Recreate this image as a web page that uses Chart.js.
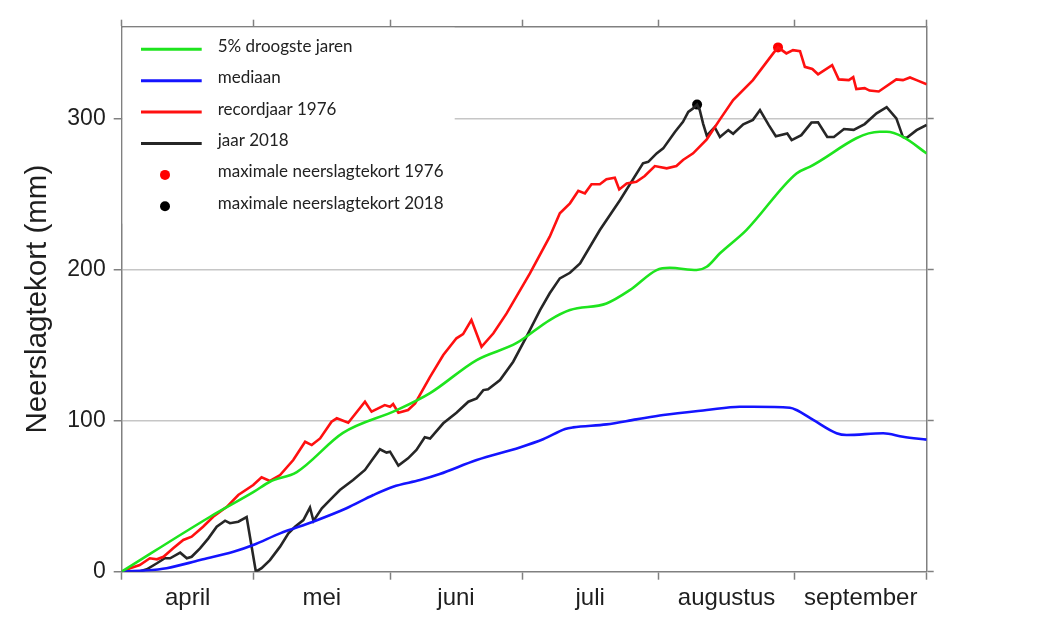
<!DOCTYPE html>
<html>
<head>
<meta charset="utf-8">
<script src="https://cdn.jsdelivr.net/npm/chart.js@4/dist/chart.umd.min.js"></script>
<style>
  html, body { margin: 0; padding: 0; background: #fff; }
  #wrap { width: 1046px; height: 629px; position: relative; }
</style>
</head>
<body>
<div id="wrap"><canvas id="chart"></canvas></div>
<script>
'use strict';

// x = days since 1 april (183 = 1 oktober), y = neerslagtekort in mm
const monthStarts = [0, 30, 61, 91, 122, 153, 183];
const monthMids = [15, 45.5, 76, 106.5, 137.5, 168];
const monthNames = ['april', 'mei', 'juni', 'juli', 'augustus', 'september'];
const yTicks = [0, 100, 200, 300];

// 5% droogste jaren
const dryDays = [0, 20.1, 30, 33.7, 39.8, 50.3, 62.5, 70.1, 80.7, 89.8, 97.3, 101.9, 110.2, 115.5, 121.6, 124.6, 130.7, 133, 136, 142, 153.4, 156.4, 172.3, 173.9, 177.6, 183];
const dryValues = [0, 36.4, 52.8, 59.6, 66, 91.9, 107, 118.3, 140.2, 151.5, 166.7, 173.3, 177.7, 186.5, 199.8, 201.3, 199.8, 202, 210.9, 226.3, 263.8, 268.2, 291.4, 291.4, 288, 277];

// mediaan
const medianDays = [0, 4.9, 10.2, 17.8, 25.4, 29.9, 36, 43.5, 51.1, 57.2, 61.7, 67.8, 72.3, 80.7, 90.5, 95.8, 100.8, 102.6, 110.2, 117, 123.1, 133, 140.5, 143.5, 151.9, 153.4, 157.2, 162.5, 164.8, 173.1, 177.6, 183];
const medianValues = [0, 0.7, 2.3, 7.7, 13.2, 17.7, 25.4, 33.1, 42, 50.8, 56.3, 60.7, 64.7, 74, 82.3, 87.7, 94.5, 95.6, 97.6, 100.9, 103.8, 107.1, 109.3, 109.3, 108.6, 107.1, 100.5, 91.7, 90.5, 91.7, 89.4, 87.5];

// recordjaar 1976
const days1976 = [0, 1.9, 4.1, 6.4, 8, 9.5, 11.7, 14, 15.9, 18.5, 20.8, 23.9, 26.5, 29.9, 31.8, 33.7, 36, 39, 41.7, 43.2, 45.1, 47.7, 48.9, 51.5, 55.3, 56.8, 59.8, 61, 61.7, 62.9, 65.1, 66.7, 70.1, 73.1, 76.1, 77.6, 79.5, 81.8, 84.5, 87.5, 92.8, 97.3, 99.6, 101.9, 103.8, 105.3, 106.8, 108.7, 110.2, 112.1, 113.1, 114.8, 117, 118.9, 121.2, 123.9, 126.1, 127.6, 129.9, 133, 136, 139, 143.5, 148.1, 149.2, 151.1, 152.6, 154.2, 155.3, 157, 158.3, 161.5, 163, 165.3, 166.3, 167, 168.9, 170, 172.1, 176.1, 177.6, 179.2, 180.7, 183];
const values1976 = [0, 2.3, 4.4, 8.9, 8.2, 9.9, 15.5, 21, 23.2, 29.8, 36.4, 43, 50.8, 57.4, 62.5, 60.1, 64, 74, 86.1, 83.9, 88.3, 99.3, 101.6, 98.7, 112.6, 106, 110.4, 109.3, 111.1, 105.3, 107.1, 111.5, 129.1, 143.5, 154.6, 157.4, 166.7, 149, 157.9, 171.1, 197.6, 221.9, 237.4, 244, 252.3, 250.6, 256.6, 256.6, 259.9, 260.9, 253.2, 257.2, 258.3, 262.1, 268.7, 267.2, 268.7, 272.7, 277.1, 286.4, 299.6, 312.4, 325.6, 343.3, 347.3, 343.3, 345.5, 344.8, 334.4, 333, 329.5, 335.6, 326.1, 325.6, 327.6, 319.7, 320.3, 318.7, 318.1, 326.1, 325.6, 327.4, 325.6, 322.8];

// jaar 2018
const days2018 = [0, 4.2, 5.7, 8, 9.8, 11, 13.3, 14.8, 15.9, 17.8, 19.7, 21.6, 23.5, 24.6, 26.5, 28.4, 30.5, 31.8, 33.7, 36, 37.9, 39.4, 41.3, 42.8, 43.6, 45.5, 48.1, 49.6, 52.6, 55.3, 57.2, 58.7, 60.2, 61, 62.9, 65.1, 67, 68.9, 70.1, 73.1, 76.1, 78.8, 80.7, 82.2, 83.3, 86, 89, 92, 95.1, 97.3, 99.6, 101.9, 104.2, 108.7, 113.3, 118.5, 119.7, 121.6, 123.1, 125.8, 127.6, 128.8, 129.9, 130.8, 131.4, 132.2, 133, 134.8, 136, 137.9, 139, 141.3, 143.5, 145.1, 147.1, 148.7, 151.3, 152.3, 154.5, 156.8, 158.3, 160.4, 161.9, 164.2, 166.4, 168.9, 171.6, 173.9, 176.1, 177.6, 178.4, 180.7, 183];
const values2018 = [0, 0.3, 1.6, 5.6, 8.9, 8.9, 12.6, 8.9, 9.9, 15.5, 22.1, 29.8, 33.8, 32.1, 33.1, 36.2, 0, 2.3, 7.7, 16.6, 25.4, 29.8, 34.2, 42.5, 33.6, 42, 49.7, 54.1, 60.7, 67.4, 75.1, 81.1, 78.9, 79.5, 70.3, 75.1, 80.6, 89, 88.2, 98.3, 105.3, 112.6, 114.8, 120.3, 120.8, 127, 139.1, 155.6, 173.3, 184.4, 194.3, 198, 204.2, 226.3, 246.2, 270.5, 271.5, 277.1, 280.4, 291.4, 298, 304.6, 306.9, 309.4, 305.8, 296.5, 288.9, 294.4, 287.9, 292.5, 290.1, 296.4, 299.3, 305.8, 295.8, 288.5, 290.3, 285.9, 289.2, 297.5, 297.7, 287.9, 287.9, 293.2, 292.7, 296.5, 303.6, 307.7, 300.3, 287.9, 287.2, 292.5, 296];

// maximale neerslagtekort
const maxDay1976 = [149.2];
const maxValue1976 = [347.3];
const maxDay2018 = [130.8];
const maxValue2018 = [309.4];

const axisColor = '#808080';
const gridColor = '#c6c6c6';
const textColor = '#1e1e1e';
const axisFont = 'Liberation Sans, Arial, sans-serif';

function toPoints(xs, ys) {
  return xs.map((x, i) => ({ x: x, y: ys[i] }));
}

function lineSet(label, xs, ys, color, smooth) {
  return {
    label: label,
    data: toPoints(xs, ys),
    borderColor: color,
    backgroundColor: color,
    borderWidth: 2.6,
    pointRadius: 0,
    tension: 0,
    cubicInterpolationMode: smooth ? 'monotone' : 'default',
  };
}

function dotSet(label, xs, ys, color) {
  return {
    label: label,
    data: toPoints(xs, ys),
    showLine: false,
    pointRadius: 5,
    pointBorderWidth: 0,
    pointBackgroundColor: color,
    borderColor: color,
  };
}

// legend inside the plot with a white background (hides the 300 gridline)
const legendBox = {
  id: 'legendBox',
  beforeDatasetsDraw(chart) {
    const ctx = chart.ctx;
    const area = chart.chartArea;
    ctx.save();
    ctx.fillStyle = '#fff';
    ctx.fillRect(area.left + 1, area.top + 1, 332, 196);
    ctx.font = '17px Lato, sans-serif';
    ctx.textBaseline = 'alphabetic';
    ctx.textAlign = 'left';
    chart.data.datasets.forEach((ds, i) => {
      const y = area.top + 22.6 + i * 31.4;
      if (ds.showLine === false) {
        ctx.fillStyle = ds.pointBackgroundColor;
        ctx.beginPath();
        ctx.arc(area.left + 43.3, y, 5, 0, Math.PI * 2);
        ctx.fill();
      } else {
        ctx.strokeStyle = ds.borderColor;
        ctx.lineWidth = 3;
        ctx.beginPath();
        ctx.moveTo(area.left + 19.3, y);
        ctx.lineTo(area.left + 80, y);
        ctx.stroke();
      }
      ctx.fillStyle = '#222';
      ctx.fillText(ds.label, area.left + 96, y + 2.5);
    });
    ctx.restore();
  },
};

const noLine = 'rgba(0,0,0,0)';

new Chart(document.getElementById('chart'), {
  type: 'line',
  data: {
    datasets: [
      lineSet('5% droogste jaren', dryDays, dryValues, '#1ee41e', true),
      lineSet('mediaan', medianDays, medianValues, '#1414ff', true),
      lineSet('recordjaar 1976', days1976, values1976, '#ff1010', false),
      lineSet('jaar 2018', days2018, values2018, '#262626', false),
      dotSet('maximale neerslagtekort 1976', maxDay1976, maxValue1976, '#ff0000'),
      dotSet('maximale neerslagtekort 2018', maxDay2018, maxValue2018, '#000000'),
    ],
  },
  options: {
    responsive: true,
    maintainAspectRatio: false,
    animation: false,
    layout: { padding: 0 },
    plugins: {
      legend: { display: false },
      tooltip: { enabled: false },
    },
    scales: {
      x: {
        type: 'linear',
        position: 'bottom',
        min: 0,
        max: 183,
        afterBuildTicks: (s) => {
          s.ticks = monthStarts.concat(monthMids).sort((a, b) => a - b).map((v) => ({ value: v }));
        },
        afterFit: (s) => { s.height = 57.3; },
        border: { color: axisColor, width: 1.5 },
        grid: {
          drawOnChartArea: false,
          tickLength: 8,
          tickWidth: 1.5,
          tickColor: (c) => (c.tick && monthStarts.includes(c.tick.value) ? axisColor : noLine),
        },
        ticks: {
          autoSkip: false,
          maxRotation: 0,
          padding: 4.5,
          color: textColor,
          font: { family: axisFont, size: 24 },
          callback: (v) => {
            const i = monthMids.indexOf(v);
            return i >= 0 ? monthNames[i] : '';
          },
        },
      },
      xTop: {
        type: 'linear',
        position: 'top',
        min: 0,
        max: 183,
        afterBuildTicks: (s) => { s.ticks = monthStarts.map((v) => ({ value: v })); },
        afterFit: (s) => { s.height = 26.7; },
        border: { color: axisColor, width: 1.5 },
        grid: { drawOnChartArea: false, tickLength: 7, tickWidth: 1.5, tickColor: axisColor },
        ticks: { display: false },
      },
      y: {
        min: 0,
        max: 361,
        afterBuildTicks: (s) => { s.ticks = yTicks.map((v) => ({ value: v })); },
        afterFit: (s) => { s.width = 121.7; },
        border: { color: axisColor, width: 1.5 },
        grid: {
          color: (c) => (c.tick && c.tick.value === 0 ? noLine : gridColor),
          lineWidth: 1.5,
          tickLength: 8,
          tickWidth: 1.5,
          tickColor: axisColor,
        },
        ticks: { padding: 8, color: textColor, font: { family: axisFont, size: 23 } },
        title: {
          display: true,
          text: 'Neerslagtekort (mm)',
          color: textColor,
          font: { family: axisFont, size: 29.5 },
          padding: { top: 20.3, bottom: 0 },
        },
      },
      yRight: {
        position: 'right',
        min: 0,
        max: 361,
        afterBuildTicks: (s) => { s.ticks = yTicks.map((v) => ({ value: v })); },
        afterFit: (s) => { s.width = 1046 - 926.7; },
        border: { color: axisColor, width: 1.5 },
        grid: { drawOnChartArea: false, tickLength: 7, tickWidth: 1.5, tickColor: axisColor },
        ticks: { display: false },
      },
    },
  },
  plugins: [legendBox],
});
</script>
</body>
</html>
